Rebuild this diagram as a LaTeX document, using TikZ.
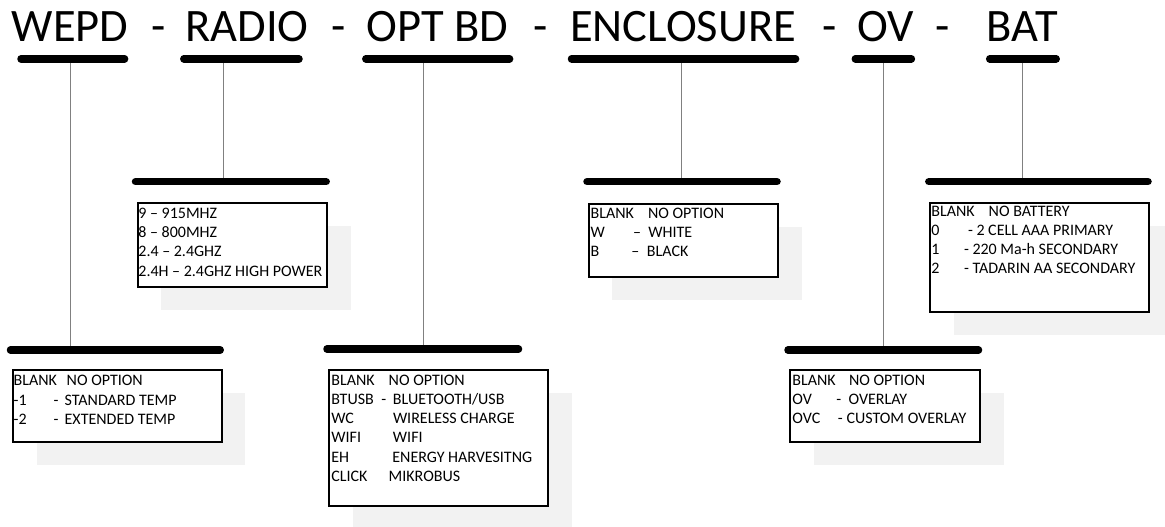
\documentclass[tikz,border=0pt]{standalone}
\usepackage{fontspec}
\setmainfont{Carlito}
\usetikzlibrary{shadows}
\definecolor{shadowgray}{HTML}{F2F2F2}
\definecolor{linegray}{HTML}{808080}
\newcommand\ct[2]{\makebox[0pt][l]{\hspace*{#1pt}#2}}
\begin{document}
\begin{tikzpicture}[x=1pt,y=-1pt,
  title/.style={font=\fontsize{46.5}{55}\selectfont, inner sep=0pt, anchor=base},
  bar/.style={line width=7.5pt, line cap=round},
  stem/.style={draw=linegray, line width=1.2pt},
  optbox/.style={draw, line width=2pt, fill=white, anchor=north west, inner sep=0pt,
    drop shadow={shadow xshift=23.5pt, shadow yshift=-23pt, fill=shadowgray, opacity=1}},
  boxtext/.style={font=\fontsize{16}{19.2}\selectfont, align=left, anchor=north west, inner sep=0pt}]
\useasboundingbox (0,0) rectangle (1165,527);

% title
\node[title] (tWEPD) at (70.1,41.7) {WEPD};
\node[title] (dA) at (159,41.7) {-};
\node[title] (tRADIO) at (247.1,41.7) {RADIO};
\node[title] (dB) at (339,41.7) {-};
\node[title] (tOPT) at (437.7,41.7) {OPT BD};
\node[title] (dC) at (540.3,41.7) {-};
\node[title] (tENC) at (683,41.7) {ENCLOSURE};
\node[title] (dD) at (829.8,41.7) {-};
\node[title] (tOV) at (885.3,41.7) {OV};
\node[title] (dE) at (942.2,41.7) {-};
\node[title] (tBAT) at (1022.3,41.7) {BAT};

% stems
\coordinate (s1t) at (70.7,58.8);   \coordinate (s1b) at (70.7,350);
\coordinate (s2t) at (223.3,58.8);  \coordinate (s2b) at (223.3,181.7);
\coordinate (s3t) at (423.3,58.8);  \coordinate (s3b) at (423.3,349);
\coordinate (s4t) at (681.7,58.8);  \coordinate (s4b) at (681.7,181.7);
\coordinate (s5t) at (883.3,58.8);  \coordinate (s5b) at (883.3,350);
\coordinate (s6t) at (1022.7,58.8); \coordinate (s6b) at (1022.7,181.7);
\foreach \i in {1,...,6} {\draw[stem] (s\i t) -- (s\i b);}

% top bars
\coordinate (a1l) at (21,58.8);    \coordinate (a1r) at (124.6,58.8);
\coordinate (a2l) at (183.8,58.8); \coordinate (a2r) at (299,58.8);
\coordinate (a3l) at (365.8,58.8); \coordinate (a3r) at (509.6,58.8);
\coordinate (a4l) at (571.5,58.8); \coordinate (a4r) at (795.6,58.8);
\coordinate (a5l) at (855.3,58.8); \coordinate (a5r) at (911.4,58.8);
\coordinate (a6l) at (989.7,58.8); \coordinate (a6r) at (1056.2,58.8);
% lower bars
\coordinate (b1l) at (10.5,350);   \coordinate (b1r) at (220.2,350);
\coordinate (b2l) at (135.5,181.7);\coordinate (b2r) at (326.2,181.7);
\coordinate (b3l) at (327,349);    \coordinate (b3r) at (518.5,349);
\coordinate (b4l) at (587,181.7);  \coordinate (b4r) at (777,181.7);
\coordinate (b5l) at (788,350);    \coordinate (b5r) at (978.5,350);
\coordinate (b6l) at (928.8,181.7);\coordinate (b6r) at (1148,181.7);
\foreach \i in {1,...,6} {\draw[bar] (a\i l) -- (a\i r); \draw[bar] (b\i l) -- (b\i r);}

% boxes
\node[optbox, minimum width=208.7pt, minimum height=71.4pt] (boxWEPD) at (12,369.3) {};
\node[optbox, minimum width=189.6pt, minimum height=84.6pt] (boxRADIO) at (136.7,201.7) {};
\node[optbox, minimum width=219pt, minimum height=136pt] (boxOPT) at (328.3,368.7) {};
\node[optbox, minimum width=189.6pt, minimum height=73.6pt] (boxENC) at (587.7,202.7) {};
\node[optbox, minimum width=189.7pt, minimum height=71.4pt] (boxOV) at (789.3,369.3) {};
\node[optbox, minimum width=219pt, minimum height=109pt] (boxBAT) at (929.3,201.7) {};

% box texts
\node[boxtext] (txWEPD) at (13,372.7) {\rule{0pt}{13pt}\ct{0}{BLANK}\ct{53}{NO OPTION}\\
\ct{0}{-1}\ct{40}{-}\ct{51}{STANDARD TEMP}\\
\ct{0}{-2}\ct{40}{-}\ct{51}{EXTENDED TEMP}};

\node[boxtext] (txRADIO) at (138.2,205.3) {\rule{0pt}{13pt}9 – 915MHZ\\
8 – 800MHZ\\
2.4 – 2.4GHZ\\
2.4H – 2.4GHZ HIGH POWER};

\node[boxtext] (txOPT) at (330.7,372) {\rule{0pt}{13pt}\ct{0}{BLANK}\ct{57.3}{NO OPTION}\\
\ct{0}{BTUSB}\ct{50}{-}\ct{61.6}{BLUETOOTH/USB}\\
\ct{0}{WC}\ct{61.6}{WIRELESS CHARGE}\\
\ct{0}{WIFI}\ct{61.6}{WIFI}\\
\ct{0}{EH}\ct{61}{ENERGY HARVESITNG}\\
\ct{0}{CLICK}\ct{57.3}{MIKROBUS}};

\node[boxtext] (txENC) at (590,205.3) {\rule{0pt}{13pt}\ct{0}{BLANK}\ct{57.3}{NO OPTION}\\
\ct{0}{W}\ct{42.3}{–}\ct{57.7}{WHITE}\\
\ct{0}{B}\ct{40.7}{–}\ct{56.3}{BLACK}};

\node[boxtext] (txOV) at (791.7,372) {\rule{0pt}{13pt}\ct{0}{BLANK}\ct{56.6}{NO OPTION}\\
\ct{0}{OV}\ct{44}{-}\ct{56.3}{OVERLAY}\\
\ct{0}{OVC}\ct{45.6}{- CUSTOM OVERLAY}};

\node[boxtext] (txBAT) at (930.7,203) {\rule{0pt}{13pt}\ct{0}{BLANK}\ct{57.3}{NO BATTERY}\\
\ct{0}{0}\ct{36.6}{- 2 CELL AAA PRIMARY}\\
\ct{0}{1}\ct{32.6}{- 220 Ma-h SECONDARY}\\
\ct{0}{2}\ct{32.6}{- TADARIN AA SECONDARY}};
\end{tikzpicture}
\end{document}
